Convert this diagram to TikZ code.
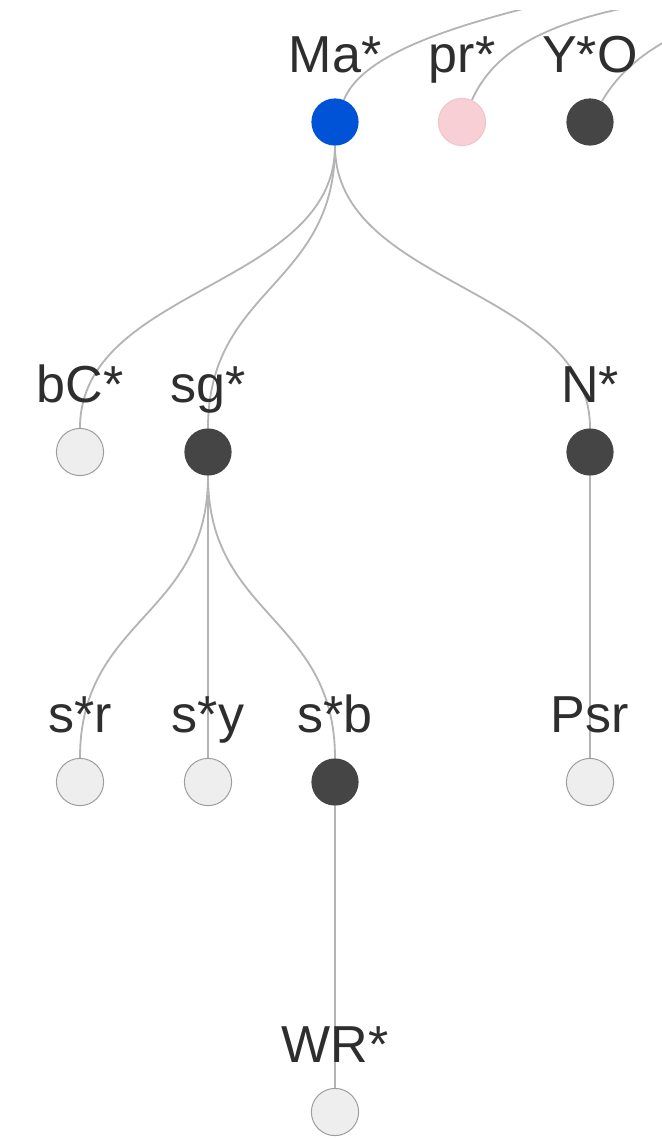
\documentclass[tikz,border=0pt]{standalone}
\usepackage{fontspec}
\setmainfont{Liberation Sans}
\usepackage{tikz}
\usetikzlibrary{backgrounds}

\definecolor{linkgray}{HTML}{B4B4B4}
\definecolor{darkfill}{HTML}{454545}
\definecolor{lightfill}{HTML}{EEEEEE}
\definecolor{lightedge}{HTML}{9C9C9C}
\definecolor{bluefill}{HTML}{0052D6}
\definecolor{pinkfill}{HTML}{F7CFD4}
\definecolor{pinkedge}{HTML}{EFC3C9}
\definecolor{textgray}{HTML}{2E2E2E}

\tikzset{
    knot/.style={circle, minimum size=1.18cm, inner sep=0pt},
    darkknot/.style={knot, fill=darkfill},
    lightknot/.style={knot, fill=lightfill, draw=lightedge, line width=0.7pt},
    link/.style={draw=linkgray, line width=1.3pt},
    every label/.style={text=textgray, font=\fontsize{37}{40}\selectfont,
        inner sep=0pt, text depth=0pt}
}

\begin{document}
\begin{tikzpicture}[x=0.025cm, y=-0.025cm, label distance=0.63cm]
    \useasboundingbox (0,0) rectangle (662,1140);

    % 第一层
    \node[knot, fill=bluefill, label=above:Ma*] (ma) at (335,122) {};
    \node[knot, fill=pinkfill, draw=pinkedge, line width=0.7pt, label=above:pr*] (pr) at (462,122) {};
    \node[darkknot, label=above:Y*O] (yo) at (590,122) {};

    % 第二层
    \node[lightknot, label=above:bC*] (bc) at (80,452) {};
    \node[darkknot, label=above:sg*] (sg) at (208,452) {};
    \node[darkknot, label=above:N*] (n) at (590,452) {};

    % 第三层
    \node[lightknot, label=above:s*r] (sr) at (80,782) {};
    \node[lightknot, label=above:s*y] (sy) at (208,782) {};
    \node[darkknot, label=above:s*b] (sb) at (335,782) {};
    \node[lightknot, label=above:Psr] (psr) at (590,782) {};

    % 第四层
    \node[lightknot, label=above:WR*] (wr) at (335,1112) {};

    % 向上伸出画面的连线端点
    \coordinate (ma-up) at (560,0);
    \coordinate (pr-up) at (640,5);
    \coordinate (yo-up) at (700,25);

    % 连线放在底层
    \begin{scope}[on background layer]
        \clip (0,10) rectangle (662,1140);
        \draw[link] (ma) .. controls (360,60) and (430,30) .. (ma-up);
        \draw[link] (pr) .. controls (490,60) and (530,25) .. (pr-up);
        \draw[link] (yo) .. controls (620,70) and (650,45) .. (yo-up);

        \draw[link] (ma) .. controls +(0,165) and +(0,-165) .. (bc);
        \draw[link] (ma) .. controls +(0,165) and +(0,-165) .. (sg);
        \draw[link] (ma) .. controls +(0,165) and +(0,-165) .. (n);
        \draw[link] (sg) .. controls +(0,165) and +(0,-165) .. (sr);
        \draw[link] (sg) -- (sy);
        \draw[link] (sg) .. controls +(0,165) and +(0,-165) .. (sb);
        \draw[link] (n) -- (psr);
        \draw[link] (sb) -- (wr);
    \end{scope}
\end{tikzpicture}
\end{document}
